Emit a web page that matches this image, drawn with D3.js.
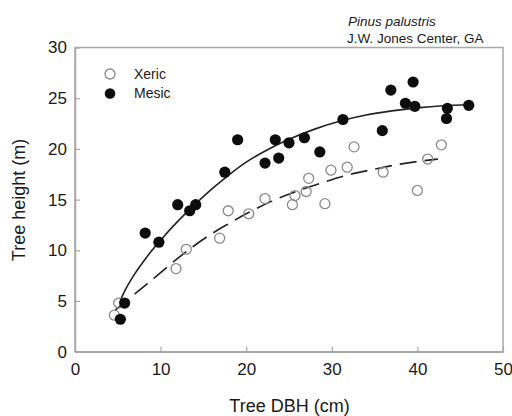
<!DOCTYPE html>
<html>
<head>
<meta charset="utf-8">
<script src="https://cdn.jsdelivr.net/npm/d3@7"></script>
<style>
  html, body { margin: 0; padding: 0; background: #fff; }
  svg { display: block; font-family: "Liberation Sans", Arial, sans-serif; }
</style>
</head>
<body>
<svg id="chart" width="512" height="416"></svg>
<script>
// ---- Data ----
const xericDBH = [4.6, 5.1, 11.8, 13.0, 16.9, 17.9, 20.3, 22.2, 25.4, 25.7, 27.0, 27.3, 29.2, 29.9, 31.8, 32.6, 36.0, 40.0, 41.2, 42.8];
const xericH   = [3.6, 4.8, 8.2, 10.1, 11.2, 13.9, 13.6, 15.1, 14.5, 15.4, 15.8, 17.1, 14.6, 17.9, 18.2, 20.2, 17.7, 15.9, 19.0, 20.4];

const mesicDBH = [5.3, 5.8, 8.2, 9.8, 12.0, 13.4, 14.1, 17.5, 19.0, 22.2, 23.4, 23.8, 25.0, 26.8, 28.6, 31.3, 35.9, 36.9, 38.6, 39.5, 39.7, 43.4, 43.5, 46.0];
const mesicH   = [3.2, 4.8, 11.7, 10.8, 14.5, 13.9, 14.5, 17.7, 20.9, 18.6, 20.9, 19.1, 20.6, 21.1, 19.7, 22.9, 21.8, 25.8, 24.5, 26.6, 24.2, 23.0, 24.0, 24.3];

// fitted curves as drawn in the reference
const mesicFitDBH = [5.3, 6, 7, 8, 9, 10, 12, 14, 16, 18, 20, 22, 25, 28, 31, 34, 37, 40, 43, 46];
const mesicFitH   = [5.1, 6.3, 7.7, 8.9, 10.0, 11.0, 12.85, 14.5, 16.05, 17.45, 18.7, 19.7, 20.95, 21.95, 22.75, 23.35, 23.75, 24.05, 24.25, 24.35];
const xericFitDBH = [4.7, 6, 8, 10, 12, 14, 16, 18, 20, 23, 26, 29, 32, 35, 38, 42.4];
const xericFitH   = [4.1, 5.0, 6.4, 7.8, 9.2, 10.5, 11.65, 12.65, 13.6, 14.85, 15.85, 16.7, 17.45, 18.0, 18.5, 19.0];

const xTicks = [0, 10, 20, 30, 40, 50];
const yTicks = [0, 5, 10, 15, 20, 25, 30];
const legendLabels = ["Xeric", "Mesic"];
const titleLines = ["Pinus palustris", "J.W. Jones Center, GA"];
const xTitle = "Tree DBH (cm)";
const yTitle = "Tree height (m)";

// ---- Drawing ----
const svg = d3.select("#chart");
const x = d3.scaleLinear().domain([0, 50]).range([75, 503]);
const y = d3.scaleLinear().domain([0, 30]).range([351.7, 47.5]);
const frameColor = "#a8a8a8";

// frame
svg.append("rect")
  .attr("x", x(0)).attr("y", y(30))
  .attr("width", x(50) - x(0)).attr("height", y(0) - y(30))
  .attr("fill", "none").attr("stroke", frameColor).attr("stroke-width", 1.5);

const xAxis = svg.append("g")
  .attr("transform", `translate(0,${y(0)})`)
  .call(d3.axisBottom(x).tickValues(xTicks).tickSize(-5).tickSizeOuter(0).tickPadding(11).tickFormat(d3.format("d")));
const yAxis = svg.append("g")
  .attr("transform", `translate(${x(0)},0)`)
  .call(d3.axisLeft(y).tickValues(yTicks).tickSize(-5).tickSizeOuter(0).tickPadding(8).tickFormat(d3.format("d")));

[xAxis, yAxis].forEach(g => {
  g.select(".domain").attr("stroke", frameColor).attr("stroke-width", 1.5);
  g.selectAll(".tick line").attr("stroke", frameColor).attr("stroke-width", 1.2);
  g.selectAll(".tick text").attr("fill", "#1a1a1a").style("font-size", "17px")
    .style("font-family", '"Liberation Sans", Arial, sans-serif');
});

// curves
const line = d3.line().x(d => x(d[0])).y(d => y(d[1])).curve(d3.curveMonotoneX);
svg.append("path")
  .datum(mesicFitDBH.map((d, i) => [d, mesicFitH[i]]))
  .attr("d", line).attr("fill", "none").attr("stroke", "#222").attr("stroke-width", 1.6);
svg.append("path")
  .datum(xericFitDBH.map((d, i) => [d, xericFitH[i]]))
  .attr("d", line).attr("fill", "none").attr("stroke", "#222").attr("stroke-width", 1.6)
  .attr("stroke-dasharray", "17,8");

// points
svg.append("g").selectAll("circle")
  .data(xericDBH.map((d, i) => [d, xericH[i]]))
  .join("circle")
  .attr("cx", d => x(d[0])).attr("cy", d => y(d[1])).attr("r", 5)
  .attr("fill", "none").attr("stroke", "#8a8a8a").attr("stroke-width", 1.3);
svg.append("g").selectAll("circle")
  .data(mesicDBH.map((d, i) => [d, mesicH[i]]))
  .join("circle")
  .attr("cx", d => x(d[0])).attr("cy", d => y(d[1])).attr("r", 5.6)
  .attr("fill", "#0d0d0d");

// legend
const leg = svg.append("g");
leg.append("circle").attr("cx", 110).attr("cy", 74).attr("r", 5)
  .attr("fill", "none").attr("stroke", "#8a8a8a").attr("stroke-width", 1.3);
leg.append("circle").attr("cx", 110).attr("cy", 93.5).attr("r", 5.3).attr("fill", "#0d0d0d");
leg.selectAll("text").data(legendLabels).join("text")
  .attr("x", 134).attr("y", (d, i) => 78.7 + i * 19.5)
  .attr("fill", "#1a1a1a").style("font-size", "14px").text(d => d);

// top-right title
svg.append("text").attr("x", 348).attr("y", 26)
  .style("font-size", "13.5px").style("font-style", "italic").attr("fill", "#1a1a1a").text(titleLines[0]);
svg.append("text").attr("x", 347).attr("y", 42.5)
  .style("font-size", "13.5px").attr("fill", "#1a1a1a").text(titleLines[1]);

// axis titles
svg.append("text").attr("x", 289.5).attr("y", 412).attr("text-anchor", "middle")
  .style("font-size", "18px").attr("fill", "#1a1a1a").text(xTitle);
svg.append("text").attr("transform", "translate(25,200) rotate(-90)").attr("text-anchor", "middle")
  .style("font-size", "18px").attr("fill", "#1a1a1a").text(yTitle);
</script>
</body>
</html>
